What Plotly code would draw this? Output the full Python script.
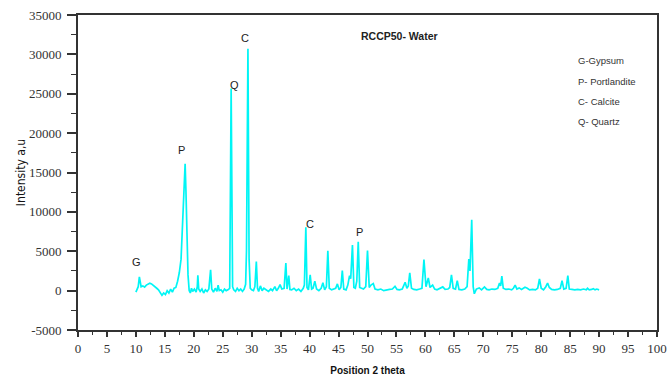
import plotly.graph_objects as go

# ---- data ----
two_theta = [
    10.0, 10.2, 10.4, 10.6, 10.75, 10.9, 11.2, 11.5, 11.8, 12.1, 12.4, 12.7, 13.0, 13.3, 13.6, 13.9,
    14.2, 14.5, 14.8, 15.1, 15.4, 15.7, 16.0, 16.3, 16.6, 16.9, 17.2, 17.5, 17.8, 18.1, 18.35, 18.5,
    18.65, 18.8, 19.0, 19.2, 19.4, 19.6, 19.8, 20.1, 20.4, 20.6, 20.7, 20.85, 21.1, 21.4, 21.7, 22.0,
    22.3, 22.6, 22.9, 23.1, 23.4, 23.7, 24.0, 24.2, 24.4, 24.7, 25.0, 25.3, 25.6, 25.9, 26.2, 26.45,
    26.7, 26.9, 27.2, 27.5, 27.8, 28.1, 28.4, 28.7, 28.95, 29.1, 29.35, 29.55, 29.75, 30.0, 30.3, 30.55,
    30.8, 31.0, 31.2, 31.5, 31.8, 32.1, 32.5, 32.9, 33.3, 33.6, 34.0, 34.3, 34.6, 34.9, 35.2, 35.6,
    35.9, 36.1, 36.4, 36.6, 36.9, 37.3, 37.7, 38.1, 38.5, 38.9, 39.1, 39.35, 39.55, 39.8, 40.1, 40.35,
    40.6, 40.9, 41.2, 41.6, 42.0, 42.3, 42.6, 42.9, 43.15, 43.4, 43.8, 44.2, 44.5, 44.8, 45.1, 45.4,
    45.65, 45.9, 46.3, 46.6, 46.9, 47.1, 47.4, 47.65, 47.9, 48.15, 48.4, 48.65, 49.0, 49.3, 49.7, 50.0,
    50.3, 50.6, 51.0, 51.3, 51.8, 52.3, 52.8, 53.3, 53.8, 54.3, 54.75, 55.1, 55.5, 56.0, 56.5, 56.8,
    57.05, 57.3, 57.6, 58.0, 58.5, 59.0, 59.4, 59.75, 60.1, 60.5, 60.8, 61.25, 61.6, 62.0, 62.5, 63.0,
    63.4, 63.9, 64.2, 64.5, 64.8, 65.2, 65.5, 65.8, 66.3, 66.8, 67.2, 67.5, 67.7, 68.0, 68.25, 68.45,
    68.8, 69.3, 69.7, 70.2, 70.6, 71.0, 71.5, 72.0, 72.5, 72.8, 73.0, 73.2, 73.45, 73.9, 74.4, 74.9,
    75.2, 75.5, 75.8, 76.2, 76.6, 76.9, 77.2, 77.6, 78.0, 78.5, 79.0, 79.4, 79.7, 80.0, 80.4, 80.8,
    81.1, 81.4, 81.8, 82.3, 82.8, 83.3, 83.6, 83.9, 84.3, 84.6, 84.85, 85.3, 85.8, 86.3, 86.8, 87.3,
    87.8, 88.0, 88.3, 88.7, 89.0, 89.3, 89.6, 90.0,
]
intensity = [
    -200, 100, 500, 1750, 700, 500, 600, 450, 700, 800, 950, 850, 700, 500, 300, 100,
    -200, -600, -300, -500, 0, -300, 200, -200, 300, 400, 1200, 2300, 4000, 9000, 14000, 16100,
    12500, 7000, 2000, 0, -300, 300, -100, 200, -200, 500, 1950, 200, -100, 200, -300, 100,
    -100, 200, 2650, 200, -200, 300, -100, 700, 0, 100, -200, 200, 0, 100, 300, 25650,
    500, 100, -100, 300, 0, 200, -100, 200, 800, 5000, 30700, 4000, 300, 100, 0, 500,
    3700, 300, -100, 600, 0, 300, 100, -100, 200, 0, 500, 0, 300, 760, 200, 300,
    3500, 200, 1900, 150, 100, 300, 0, 200, -100, 300, 700, 8050, 400, 100, 2000, 200,
    300, 1200, 200, 0, 300, 1000, 100, 500, 5050, 300, 100, 200, 300, 850, 100, 400,
    2550, 200, 100, 700, 1900, 1500, 5800, 400, 300, 1200, 6200, 400, 300, 200, 500, 5100,
    400, 700, 900, 200, 100, 200, 0, 100, 150, 200, 550, 150, 100, 200, 1050, 300,
    600, 2250, 300, 150, 100, 200, 300, 3950, 500, 1600, 400, 700, 200, 100, 300, 470,
    150, 200, 400, 2000, 300, 200, 1270, 150, 100, 200, 500, 4000, 2500, 9000, 500, -400,
    200, 350, 100, 470, 150, 100, 200, 150, 300, 970, 600, 1850, 300, 150, 200, 100,
    300, 700, 200, 350, 150, 300, 420, 300, 100, 150, 100, 300, 1480, 300, 100, 500,
    970, 400, 150, 100, 150, 300, 1270, 200, 300, 1900, 200, 150, 100, 150, 100, 200,
    100, 300, 100, 150, 250, 100, 200, 100,
]

peak_labels = ["G", "P", "Q", "C", "C", "P"]
peak_label_x = [10.1, 17.9, 27.1, 28.8, 40.1, 48.7]
peak_label_y = [3600, 17900, 26150, 32100, 8500, 7400]

legend_lines = ["G-Gypsum", "P- Portlandite", "C- Calcite", "Q- Quartz"]
legend_y = [29200, 26540, 24000, 21460]

x_ticks = list(range(0, 101, 5))
y_ticks = [-5000, 0, 5000, 10000, 15000, 20000, 25000, 30000, 35000]

fig = go.Figure()
fig.add_trace(go.Scatter(
    x=two_theta, y=intensity, mode="lines",
    line=dict(color="#00F5F5", width=1.7), showlegend=False, hoverinfo="skip",
))

for t, xv, yv in zip(peak_labels, peak_label_x, peak_label_y):
    fig.add_annotation(x=xv, y=yv, text=t, showarrow=False,
                       font=dict(family="Liberation Sans, Arial, sans-serif", size=11, color="#222"))

for t, yv in zip(legend_lines, legend_y):
    fig.add_annotation(x=86.0, y=yv, text=t, showarrow=False, xanchor="left",
                       font=dict(family="Liberation Sans, Arial, sans-serif", size=9.5, color="#333"))

fig.add_annotation(x=55.6, y=32300, text="<b>RCCP50- Water</b>", showarrow=False,
                   font=dict(family="Liberation Sans, Arial, sans-serif", size=10.5, color="#222"))

tick_font = dict(family="Liberation Serif, Times New Roman, serif", size=13, color="#333")
fig.update_xaxes(
    range=[0, 100], tickvals=x_ticks, ticktext=[str(v) for v in x_ticks],
    ticks="outside", ticklen=5, tickwidth=1.5, tickcolor="#333",
    minor=dict(ticks="outside", ticklen=3, dtick=2.5, tick0=0, tickcolor="#333", tickwidth=1.2),
    showline=True, linecolor="#333", linewidth=1.8, mirror=True,
    showgrid=False, zeroline=False, tickfont=tick_font, automargin=False,
    title=dict(text="<b>Position 2 theta</b>", standoff=14,
               font=dict(family="Liberation Sans, Arial, sans-serif", size=10, color="#111")),
)
fig.update_yaxes(
    range=[-5000, 35000], tickvals=y_ticks, ticktext=[str(v) for v in y_ticks],
    ticks="outside", ticklen=9, tickwidth=1.5, tickcolor="#333",
    minor=dict(ticks="outside", ticklen=5, dtick=2500, tick0=0, tickcolor="#333", tickwidth=1.2),
    showline=True, linecolor="#333", linewidth=1.8, mirror=True, ticklabelstandoff=3,
    showgrid=False, zeroline=False, tickfont=tick_font, automargin=False,
    title=dict(text="Intensity a,u", standoff=1,
               font=dict(family="Liberation Sans Narrow, DejaVu Sans Condensed, Arial Narrow, sans-serif",
                         size=12, color="#111")),
)
fig.update_layout(
    width=668, height=376,
    margin=dict(l=78, r=11, t=15, b=46),
    paper_bgcolor="white", plot_bgcolor="white",
)
# remove the default 8px page margin so the figure fills the window exactly
fig.write_html("out.html", config={"displayModeBar": False},
               post_script="document.body.style.margin='0';document.body.style.overflow='hidden';")
